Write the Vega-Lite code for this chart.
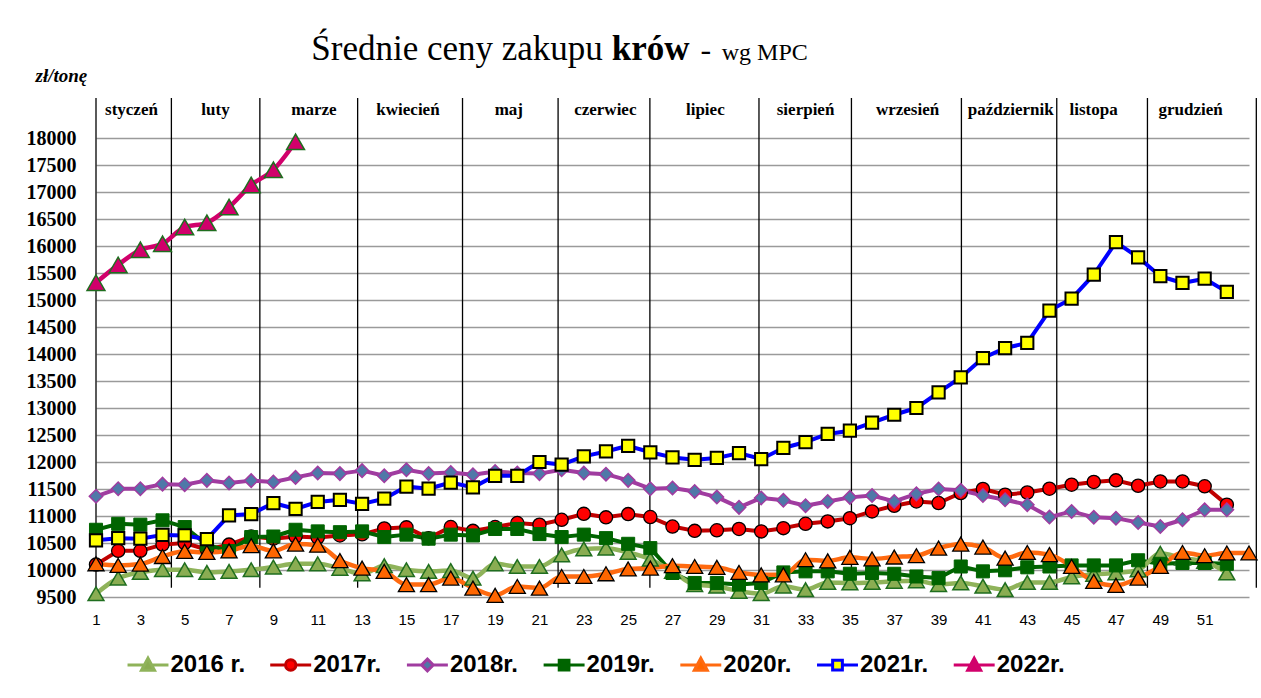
{
  "$schema": "https://vega.github.io/schema/vega-lite/v6.json",
  "autosize": {"type": "none"},
  "padding": {"left": 96, "top": 138, "right": 12, "bottom": 101},
  "width": 1153,
  "height": 459,
  "background": "white",
  "config": {
    "view": {"stroke": null},
    "legend": {"symbolStrokeWidth": 3}
  },
  "data": {"values": [
    {"w":1,"year":"2016 r.","v":9560},{"w":2,"year":"2016 r.","v":9850},{"w":3,"year":"2016 r.","v":9955},{"w":4,"year":"2016 r.","v":10005},{"w":5,"year":"2016 r.","v":10005},{"w":6,"year":"2016 r.","v":9955},{"w":7,"year":"2016 r.","v":9975},{"w":8,"year":"2016 r.","v":10005},{"w":9,"year":"2016 r.","v":10055},{"w":10,"year":"2016 r.","v":10115},{"w":11,"year":"2016 r.","v":10115},{"w":12,"year":"2016 r.","v":10030},{"w":13,"year":"2016 r.","v":9930},{"w":14,"year":"2016 r.","v":10080},{"w":15,"year":"2016 r.","v":10005},{"w":16,"year":"2016 r.","v":9975},{"w":17,"year":"2016 r.","v":9990},{"w":18,"year":"2016 r.","v":9850},{"w":19,"year":"2016 r.","v":10115},{"w":20,"year":"2016 r.","v":10065},{"w":21,"year":"2016 r.","v":10065},{"w":22,"year":"2016 r.","v":10280},{"w":23,"year":"2016 r.","v":10390},{"w":24,"year":"2016 r.","v":10405},{"w":25,"year":"2016 r.","v":10325},{"w":26,"year":"2016 r.","v":10200},{"w":27,"year":"2016 r.","v":9975},{"w":28,"year":"2016 r.","v":9730},{"w":29,"year":"2016 r.","v":9700},{"w":30,"year":"2016 r.","v":9605},{"w":31,"year":"2016 r.","v":9560},{"w":32,"year":"2016 r.","v":9700},{"w":33,"year":"2016 r.","v":9635},{"w":34,"year":"2016 r.","v":9770},{"w":35,"year":"2016 r.","v":9760},{"w":36,"year":"2016 r.","v":9770},{"w":37,"year":"2016 r.","v":9790},{"w":38,"year":"2016 r.","v":9800},{"w":39,"year":"2016 r.","v":9730},{"w":40,"year":"2016 r.","v":9760},{"w":41,"year":"2016 r.","v":9700},{"w":42,"year":"2016 r.","v":9635},{"w":43,"year":"2016 r.","v":9770},{"w":44,"year":"2016 r.","v":9770},{"w":45,"year":"2016 r.","v":9870},{"w":46,"year":"2016 r.","v":9920},{"w":47,"year":"2016 r.","v":9945},{"w":48,"year":"2016 r.","v":10000},{"w":49,"year":"2016 r.","v":10310},{"w":50,"year":"2016 r.","v":10220},{"w":51,"year":"2016 r.","v":10160},{"w":52,"year":"2016 r.","v":9945},
    {"w":1,"year":"2017r.","v":10100},{"w":2,"year":"2017r.","v":10355},{"w":3,"year":"2017r.","v":10355},{"w":4,"year":"2017r.","v":10470},{"w":5,"year":"2017r.","v":10500},{"w":6,"year":"2017r.","v":10380},{"w":7,"year":"2017r.","v":10470},{"w":8,"year":"2017r.","v":10620},{"w":9,"year":"2017r.","v":10580},{"w":10,"year":"2017r.","v":10620},{"w":11,"year":"2017r.","v":10600},{"w":12,"year":"2017r.","v":10640},{"w":13,"year":"2017r.","v":10660},{"w":14,"year":"2017r.","v":10770},{"w":15,"year":"2017r.","v":10790},{"w":16,"year":"2017r.","v":10590},{"w":17,"year":"2017r.","v":10795},{"w":18,"year":"2017r.","v":10725},{"w":19,"year":"2017r.","v":10795},{"w":20,"year":"2017r.","v":10870},{"w":21,"year":"2017r.","v":10840},{"w":22,"year":"2017r.","v":10930},{"w":23,"year":"2017r.","v":11040},{"w":24,"year":"2017r.","v":10975},{"w":25,"year":"2017r.","v":11035},{"w":26,"year":"2017r.","v":10980},{"w":27,"year":"2017r.","v":10805},{"w":28,"year":"2017r.","v":10725},{"w":29,"year":"2017r.","v":10735},{"w":30,"year":"2017r.","v":10760},{"w":31,"year":"2017r.","v":10715},{"w":32,"year":"2017r.","v":10775},{"w":33,"year":"2017r.","v":10855},{"w":34,"year":"2017r.","v":10900},{"w":35,"year":"2017r.","v":10960},{"w":36,"year":"2017r.","v":11085},{"w":37,"year":"2017r.","v":11190},{"w":38,"year":"2017r.","v":11270},{"w":39,"year":"2017r.","v":11240},{"w":40,"year":"2017r.","v":11425},{"w":41,"year":"2017r.","v":11500},{"w":42,"year":"2017r.","v":11395},{"w":43,"year":"2017r.","v":11435},{"w":44,"year":"2017r.","v":11505},{"w":45,"year":"2017r.","v":11580},{"w":46,"year":"2017r.","v":11630},{"w":47,"year":"2017r.","v":11660},{"w":48,"year":"2017r.","v":11560},{"w":49,"year":"2017r.","v":11640},{"w":50,"year":"2017r.","v":11640},{"w":51,"year":"2017r.","v":11550},{"w":52,"year":"2017r.","v":11210},
    {"w":1,"year":"2018r.","v":11365},{"w":2,"year":"2018r.","v":11505},{"w":3,"year":"2018r.","v":11505},{"w":4,"year":"2018r.","v":11590},{"w":5,"year":"2018r.","v":11580},{"w":6,"year":"2018r.","v":11660},{"w":7,"year":"2018r.","v":11610},{"w":8,"year":"2018r.","v":11655},{"w":9,"year":"2018r.","v":11630},{"w":10,"year":"2018r.","v":11715},{"w":11,"year":"2018r.","v":11795},{"w":12,"year":"2018r.","v":11785},{"w":13,"year":"2018r.","v":11840},{"w":14,"year":"2018r.","v":11745},{"w":15,"year":"2018r.","v":11855},{"w":16,"year":"2018r.","v":11785},{"w":17,"year":"2018r.","v":11805},{"w":18,"year":"2018r.","v":11765},{"w":19,"year":"2018r.","v":11825},{"w":20,"year":"2018r.","v":11795},{"w":21,"year":"2018r.","v":11785},{"w":22,"year":"2018r.","v":11855},{"w":23,"year":"2018r.","v":11795},{"w":24,"year":"2018r.","v":11775},{"w":25,"year":"2018r.","v":11660},{"w":26,"year":"2018r.","v":11505},{"w":27,"year":"2018r.","v":11520},{"w":28,"year":"2018r.","v":11455},{"w":29,"year":"2018r.","v":11350},{"w":30,"year":"2018r.","v":11160},{"w":31,"year":"2018r.","v":11335},{"w":32,"year":"2018r.","v":11290},{"w":33,"year":"2018r.","v":11190},{"w":34,"year":"2018r.","v":11270},{"w":35,"year":"2018r.","v":11345},{"w":36,"year":"2018r.","v":11380},{"w":37,"year":"2018r.","v":11270},{"w":38,"year":"2018r.","v":11410},{"w":39,"year":"2018r.","v":11500},{"w":40,"year":"2018r.","v":11475},{"w":41,"year":"2018r.","v":11380},{"w":42,"year":"2018r.","v":11300},{"w":43,"year":"2018r.","v":11210},{"w":44,"year":"2018r.","v":10980},{"w":45,"year":"2018r.","v":11085},{"w":46,"year":"2018r.","v":10975},{"w":47,"year":"2018r.","v":10960},{"w":48,"year":"2018r.","v":10880},{"w":49,"year":"2018r.","v":10805},{"w":50,"year":"2018r.","v":10930},{"w":51,"year":"2018r.","v":11115},{"w":52,"year":"2018r.","v":11115},
    {"w":1,"year":"2019r.","v":10745},{"w":2,"year":"2019r.","v":10855},{"w":3,"year":"2019r.","v":10840},{"w":4,"year":"2019r.","v":10920},{"w":5,"year":"2019r.","v":10795},{"w":6,"year":"2019r.","v":10470},{"w":7,"year":"2019r.","v":10350},{"w":8,"year":"2019r.","v":10610},{"w":9,"year":"2019r.","v":10620},{"w":10,"year":"2019r.","v":10745},{"w":11,"year":"2019r.","v":10715},{"w":12,"year":"2019r.","v":10700},{"w":13,"year":"2019r.","v":10715},{"w":14,"year":"2019r.","v":10610},{"w":15,"year":"2019r.","v":10655},{"w":16,"year":"2019r.","v":10580},{"w":17,"year":"2019r.","v":10655},{"w":18,"year":"2019r.","v":10640},{"w":19,"year":"2019r.","v":10760},{"w":20,"year":"2019r.","v":10760},{"w":21,"year":"2019r.","v":10665},{"w":22,"year":"2019r.","v":10610},{"w":23,"year":"2019r.","v":10655},{"w":24,"year":"2019r.","v":10590},{"w":25,"year":"2019r.","v":10485},{"w":26,"year":"2019r.","v":10405},{"w":27,"year":"2019r.","v":9945},{"w":28,"year":"2019r.","v":9760},{"w":29,"year":"2019r.","v":9760},{"w":30,"year":"2019r.","v":9730},{"w":31,"year":"2019r.","v":9760},{"w":32,"year":"2019r.","v":9955},{"w":33,"year":"2019r.","v":9975},{"w":34,"year":"2019r.","v":9975},{"w":35,"year":"2019r.","v":9930},{"w":36,"year":"2019r.","v":9945},{"w":37,"year":"2019r.","v":9930},{"w":38,"year":"2019r.","v":9880},{"w":39,"year":"2019r.","v":9850},{"w":40,"year":"2019r.","v":10065},{"w":41,"year":"2019r.","v":9975},{"w":42,"year":"2019r.","v":9995},{"w":43,"year":"2019r.","v":10050},{"w":44,"year":"2019r.","v":10065},{"w":45,"year":"2019r.","v":10085},{"w":46,"year":"2019r.","v":10085},{"w":47,"year":"2019r.","v":10085},{"w":48,"year":"2019r.","v":10180},{"w":49,"year":"2019r.","v":10115},{"w":50,"year":"2019r.","v":10130},{"w":51,"year":"2019r.","v":10130},{"w":52,"year":"2019r.","v":10115},
    {"w":1,"year":"2020r.","v":10115},{"w":2,"year":"2020r.","v":10085},{"w":3,"year":"2020r.","v":10110},{"w":4,"year":"2020r.","v":10250},{"w":5,"year":"2020r.","v":10345},{"w":6,"year":"2020r.","v":10325},{"w":7,"year":"2020r.","v":10355},{"w":8,"year":"2020r.","v":10450},{"w":9,"year":"2020r.","v":10355},{"w":10,"year":"2020r.","v":10480},{"w":11,"year":"2020r.","v":10460},{"w":12,"year":"2020r.","v":10175},{"w":13,"year":"2020r.","v":10035},{"w":14,"year":"2020r.","v":9975},{"w":15,"year":"2020r.","v":9730},{"w":16,"year":"2020r.","v":9730},{"w":17,"year":"2020r.","v":9850},{"w":18,"year":"2020r.","v":9665},{"w":19,"year":"2020r.","v":9530},{"w":20,"year":"2020r.","v":9695},{"w":21,"year":"2020r.","v":9665},{"w":22,"year":"2020r.","v":9880},{"w":23,"year":"2020r.","v":9880},{"w":24,"year":"2020r.","v":9930},{"w":25,"year":"2020r.","v":10020},{"w":26,"year":"2020r.","v":10035},{"w":27,"year":"2020r.","v":10080},{"w":28,"year":"2020r.","v":10065},{"w":29,"year":"2020r.","v":10050},{"w":30,"year":"2020r.","v":9955},{"w":31,"year":"2020r.","v":9910},{"w":32,"year":"2020r.","v":9910},{"w":33,"year":"2020r.","v":10190},{"w":34,"year":"2020r.","v":10170},{"w":35,"year":"2020r.","v":10235},{"w":36,"year":"2020r.","v":10205},{"w":37,"year":"2020r.","v":10240},{"w":38,"year":"2020r.","v":10265},{"w":39,"year":"2020r.","v":10405},{"w":40,"year":"2020r.","v":10480},{"w":41,"year":"2020r.","v":10425},{"w":42,"year":"2020r.","v":10220},{"w":43,"year":"2020r.","v":10325},{"w":44,"year":"2020r.","v":10285},{"w":45,"year":"2020r.","v":10065},{"w":46,"year":"2020r.","v":9790},{"w":47,"year":"2020r.","v":9715},{"w":48,"year":"2020r.","v":9850},{"w":49,"year":"2020r.","v":10065},{"w":50,"year":"2020r.","v":10325},{"w":51,"year":"2020r.","v":10265},{"w":52,"year":"2020r.","v":10315},{"w":53,"year":"2020r.","v":10315},
    {"w":1,"year":"2021r.","v":10550},{"w":2,"year":"2021r.","v":10590},{"w":3,"year":"2021r.","v":10580},{"w":4,"year":"2021r.","v":10650},{"w":5,"year":"2021r.","v":10640},{"w":6,"year":"2021r.","v":10570},{"w":7,"year":"2021r.","v":11010},{"w":8,"year":"2021r.","v":11035},{"w":9,"year":"2021r.","v":11240},{"w":10,"year":"2021r.","v":11130},{"w":11,"year":"2021r.","v":11260},{"w":12,"year":"2021r.","v":11300},{"w":13,"year":"2021r.","v":11225},{"w":14,"year":"2021r.","v":11320},{"w":15,"year":"2021r.","v":11545},{"w":16,"year":"2021r.","v":11505},{"w":17,"year":"2021r.","v":11620},{"w":18,"year":"2021r.","v":11530},{"w":19,"year":"2021r.","v":11745},{"w":20,"year":"2021r.","v":11745},{"w":21,"year":"2021r.","v":12000},{"w":22,"year":"2021r.","v":11950},{"w":23,"year":"2021r.","v":12105},{"w":24,"year":"2021r.","v":12195},{"w":25,"year":"2021r.","v":12300},{"w":26,"year":"2021r.","v":12180},{"w":27,"year":"2021r.","v":12085},{"w":28,"year":"2021r.","v":12040},{"w":29,"year":"2021r.","v":12075},{"w":30,"year":"2021r.","v":12165},{"w":31,"year":"2021r.","v":12055},{"w":32,"year":"2021r.","v":12260},{"w":33,"year":"2021r.","v":12370},{"w":34,"year":"2021r.","v":12520},{"w":35,"year":"2021r.","v":12580},{"w":36,"year":"2021r.","v":12730},{"w":37,"year":"2021r.","v":12875},{"w":38,"year":"2021r.","v":13000},{"w":39,"year":"2021r.","v":13290},{"w":40,"year":"2021r.","v":13565},{"w":41,"year":"2021r.","v":13925},{"w":42,"year":"2021r.","v":14110},{"w":43,"year":"2021r.","v":14205},{"w":44,"year":"2021r.","v":14805},{"w":45,"year":"2021r.","v":15025},{"w":46,"year":"2021r.","v":15470},{"w":47,"year":"2021r.","v":16070},{"w":48,"year":"2021r.","v":15790},{"w":49,"year":"2021r.","v":15440},{"w":50,"year":"2021r.","v":15315},{"w":51,"year":"2021r.","v":15395},{"w":52,"year":"2021r.","v":15150},
    {"w":1,"year":"2022r.","v":15320},{"w":2,"year":"2022r.","v":15650},{"w":3,"year":"2022r.","v":15930},{"w":4,"year":"2022r.","v":16040},{"w":5,"year":"2022r.","v":16350},{"w":6,"year":"2022r.","v":16430},{"w":7,"year":"2022r.","v":16720},{"w":8,"year":"2022r.","v":17130},{"w":9,"year":"2022r.","v":17410},{"w":10,"year":"2022r.","v":17930}
  ]},
  "resolve": {"scale": {"stroke": "independent", "fill": "independent", "shape": "independent"}},
  "layer": [
    {
      "data": {"values": [
        {"pos":1},{"pos":4.4},{"pos":8.39},{"pos":12.8},{"pos":17.53},{"pos":21.84},{"pos":25.98},{"pos":30.9},{"pos":35.07},{"pos":40.03},{"pos":44.33},{"pos":48.42},{"pos":53.33}
      ]},
      "mark": {"type": "rule", "color": "black", "strokeWidth": 1.3},
      "encoding": {
        "x": {"field": "pos", "type": "quantitative", "scale": {"domain": [1, 53], "nice": false, "zero": false},
          "axis": {"values": [1,3,5,7,9,11,13,15,17,19,21,23,25,27,29,31,33,35,37,39,41,43,45,47,49,51], "tickCount": 60, "title": null, "grid": false, "domain": false, "ticks": false, "labelPadding": 15, "labelFont": "Liberation Sans", "labelFontSize": 15, "labelColor": "black", "labelFlush": false, "labelOverlap": false, "format": "d"}},
        "y": {"datum": 18740, "type": "quantitative", "scale": {"domain": [9500, 18000], "nice": false, "zero": false},
          "axis": {"values": [9500,10000,10500,11000,11500,12000,12500,13000,13500,14000,14500,15000,15500,16000,16500,17000,17500,18000],
            "tickCount": 40, "format": "d", "labelOverlap": false,
            "title": "zł/tonę", "titleAngle": 0, "titleAlign": "left", "titleBaseline": "alphabetic", "titleX": -61, "titleY": -57,
            "titleFont": "Liberation Serif", "titleFontSize": 19, "titleFontWeight": "bold", "titleFontStyle": "italic", "titleColor": "black",
            "grid": true, "gridColor": "#9a9a9a", "gridWidth": 1.4, "domain": false, "ticks": false, "labelPadding": 20,
            "labelFont": "Liberation Serif", "labelFontSize": 20, "labelFontWeight": "bold", "labelColor": "black"}},
        "y2": {"datum": 9670}
      }
    },
    {
      "data": {"values": [
        {"m":"styczeń","mid":2.6},{"m":"luty","mid":6.39},{"m":"marze","mid":10.83},{"m":"kwiecień","mid":15.07},{"m":"maj","mid":19.62},{"m":"czerwiec","mid":23.97},{"m":"lipiec","mid":28.48},{"m":"sierpień","mid":33.0},{"m":"wrzesień","mid":37.6},{"m":"październik","mid":42.25},{"m":"listopa","mid":45.99},{"m":"grudzień","mid":50.37}
      ]},
      "mark": {"type": "text", "font": "Liberation Serif", "fontSize": 17, "fontWeight": "bold", "color": "black", "baseline": "middle", "align": "center"},
      "encoding": {
        "x": {"field": "mid", "type": "quantitative"},
        "y": {"datum": 18520, "type": "quantitative"},
        "text": {"field": "m"}
      }
    },
    {
      "transform": [{"filter": "datum.year === '2017r.' || datum.year === '2018r.' || datum.year === '2019r.' || datum.year === '2021r.'"}],
      "mark": {"type": "line", "strokeWidth": 4, "strokeJoin": "round", "strokeCap": "round"},
      "encoding": {
        "x": {"field": "w", "type": "quantitative"},
        "y": {"field": "v", "type": "quantitative"},
        "stroke": {"field": "year", "type": "nominal", "legend": null,
          "scale": {"domain": ["2016 r.","2017r.","2018r.","2019r.","2020r.","2021r.","2022r."], "range": ["#8fb35a","#c00000","#a03ca0","#006400","#ff6a10","#0000ff","#d1006b"]}}
      }
    },
    {
      "transform": [{"filter": "datum.year === '2016 r.' || datum.year === '2020r.' || datum.year === '2022r.'"}],
      "mark": {"type": "line", "strokeWidth": 4.5, "interpolate": "monotone", "strokeJoin": "round", "strokeCap": "round"},
      "encoding": {
        "x": {"field": "w", "type": "quantitative"},
        "y": {"field": "v", "type": "quantitative"},
        "stroke": {"field": "year", "type": "nominal", "legend": null,
          "scale": {"domain": ["2016 r.","2017r.","2018r.","2019r.","2020r.","2021r.","2022r."], "range": ["#8fb35a","#c00000","#a03ca0","#006400","#ff6a10","#0000ff","#d1006b"]}}
      }
    },
    {
      "transform": [{"filter": "datum.year === '2016 r.'"}],
      "mark": {"type": "point", "shape": "triangle-up", "size": 250, "filled": true, "opacity": 1, "fill": "#8aad52", "stroke": "#1f6e1f", "strokeWidth": 1.5},
      "encoding": {"x": {"field": "w", "type": "quantitative"}, "y": {"field": "v", "type": "quantitative"}}
    },
    {
      "transform": [{"filter": "datum.year === '2017r.'"}],
      "mark": {"type": "point", "shape": "circle", "size": 175, "filled": true, "opacity": 1, "fill": "#ff0000", "stroke": "#000000", "strokeWidth": 1.3},
      "encoding": {"x": {"field": "w", "type": "quantitative"}, "y": {"field": "v", "type": "quantitative"}}
    },
    {
      "transform": [{"filter": "datum.year === '2018r.'"}],
      "mark": {"type": "point", "shape": "diamond", "size": 180, "filled": true, "opacity": 1, "fill": "#4f78a8", "stroke": "#a03ca0", "strokeWidth": 1.5},
      "encoding": {"x": {"field": "w", "type": "quantitative"}, "y": {"field": "v", "type": "quantitative"}}
    },
    {
      "transform": [{"filter": "datum.year === '2019r.'"}],
      "mark": {"type": "point", "shape": "square", "size": 170, "filled": true, "opacity": 1, "fill": "#006400", "stroke": "#006400", "strokeWidth": 1},
      "encoding": {"x": {"field": "w", "type": "quantitative"}, "y": {"field": "v", "type": "quantitative"}}
    },
    {
      "transform": [{"filter": "datum.year === '2020r.'"}],
      "mark": {"type": "point", "shape": "triangle-up", "size": 260, "filled": true, "opacity": 1, "fill": "#ff6600", "stroke": "#000000", "strokeWidth": 1.3},
      "encoding": {"x": {"field": "w", "type": "quantitative"}, "y": {"field": "v", "type": "quantitative"}}
    },
    {
      "transform": [{"filter": "datum.year === '2021r.'"}],
      "mark": {"type": "point", "shape": "square", "size": 150, "filled": true, "opacity": 1, "fill": "#ffff00", "stroke": "#000000", "strokeWidth": 2},
      "encoding": {"x": {"field": "w", "type": "quantitative"}, "y": {"field": "v", "type": "quantitative"}}
    },
    {
      "transform": [{"filter": "datum.year === '2022r.'"}],
      "mark": {"type": "point", "shape": "triangle-up", "size": 320, "filled": true, "opacity": 1, "fill": "#d1006b", "stroke": "#1f6e1f", "strokeWidth": 1.5},
      "encoding": {"x": {"field": "w", "type": "quantitative"}, "y": {"field": "v", "type": "quantitative"}}
    },
    {
      "transform": [{"filter": "false"}],
      "mark": {"type": "point", "filled": true, "opacity": 1, "strokeWidth": 3},
      "encoding": {
        "fill": {"field": "year", "type": "nominal",
          "scale": {"domain": ["2016 r.","2017r.","2018r.","2019r.","2020r.","2021r.","2022r."], "range": ["#8aad52","#ff0000","#4f78a8","#006400","#ff6600","#ffff00","#d1006b"]},
          "legend": {"title": null, "orient": "none", "legendX": 27.5, "legendY": 515, "direction": "horizontal", "columns": 7, "labelFont": "Liberation Sans", "labelFontSize": 24, "labelFontWeight": "bold", "labelColor": "black", "symbolSize": 169, "symbolOffset": 12.5, "labelOffset": 10.5, "columnPadding": 18.7, "symbolStrokeWidth": 3}},
        "shape": {"field": "year", "type": "nominal",
          "scale": {"domain": ["2016 r.","2017r.","2018r.","2019r.","2020r.","2021r.","2022r."], "range": [
            "M-3.15,0L-0.57,0M0.57,0L3.15,0M0,-1.05L1,0.8L-1,0.8Z",
            "M-3.15,0L-0.8,0M0.8,0L3.15,0M-0.8,0A0.8,0.8 0 1,1 0.8,0A0.8,0.8 0 1,1 -0.8,0Z",
            "M-3.15,0L-0.9,0M0.9,0L3.15,0M0,-0.9L0.9,0L0,0.9L-0.9,0Z",
            "M-3.15,0L-0.75,0M0.75,0L3.15,0M-0.75,-0.75L0.75,-0.75L0.75,0.75L-0.75,0.75Z",
            "M-3.15,0L-0.57,0M0.57,0L3.15,0M0,-1.05L1,0.8L-1,0.8Z",
            "M-3.15,0L-0.75,0M0.75,0L3.15,0M-0.75,-0.75L0.75,-0.75L0.75,0.75L-0.75,0.75Z",
            "M-3.15,0L-0.57,0M0.57,0L3.15,0M0,-1.05L1,0.8L-1,0.8Z"]},
          "legend": {"title": null, "orient": "none", "legendX": 27.5, "legendY": 515, "direction": "horizontal", "columns": 7, "labelFont": "Liberation Sans", "labelFontSize": 24, "labelFontWeight": "bold", "labelColor": "black", "symbolSize": 169, "symbolOffset": 12.5, "labelOffset": 10.5, "columnPadding": 18.7, "symbolStrokeWidth": 3}},
        "stroke": {"field": "year", "type": "nominal",
          "scale": {"domain": ["2016 r.","2017r.","2018r.","2019r.","2020r.","2021r.","2022r."], "range": ["#8fb35a","#c00000","#a03ca0","#006400","#ff6a10","#0000ff","#d1006b"]},
          "legend": {"title": null, "orient": "none", "legendX": 27.5, "legendY": 515, "direction": "horizontal", "columns": 7, "labelFont": "Liberation Sans", "labelFontSize": 24, "labelFontWeight": "bold", "labelColor": "black", "symbolSize": 169, "symbolOffset": 12.5, "labelOffset": 10.5, "columnPadding": 18.7, "symbolStrokeWidth": 3}}
      }
    },
    {
      "data": {"values": [{}]},
      "mark": {"type": "text", "align": "right", "baseline": "alphabetic", "font": "Liberation Serif", "fontSize": 35, "color": "black"},
      "encoding": {"x": {"datum": 23.86, "type": "quantitative"}, "y": {"datum": 19450, "type": "quantitative"}, "text": {"value": "Średnie ceny zakupu"}}
    },
    {
      "data": {"values": [{}]},
      "mark": {"type": "text", "align": "left", "baseline": "alphabetic", "font": "Liberation Serif", "fontSize": 35, "fontWeight": "bold", "color": "black"},
      "encoding": {"x": {"datum": 24.26, "type": "quantitative"}, "y": {"datum": 19450, "type": "quantitative"}, "text": {"value": "krów"}}
    },
    {
      "data": {"values": [{}]},
      "mark": {"type": "text", "align": "center", "baseline": "alphabetic", "font": "Liberation Serif", "fontSize": 32, "color": "black"},
      "encoding": {"x": {"datum": 28.5, "type": "quantitative"}, "y": {"datum": 19450, "type": "quantitative"}, "text": {"value": "-"}}
    },
    {
      "data": {"values": [{}]},
      "mark": {"type": "text", "align": "left", "baseline": "alphabetic", "font": "Liberation Serif", "fontSize": 24, "color": "black"},
      "encoding": {"x": {"datum": 29.22, "type": "quantitative"}, "y": {"datum": 19450, "type": "quantitative"}, "text": {"value": "wg MPC"}}
    }
  ]
}
